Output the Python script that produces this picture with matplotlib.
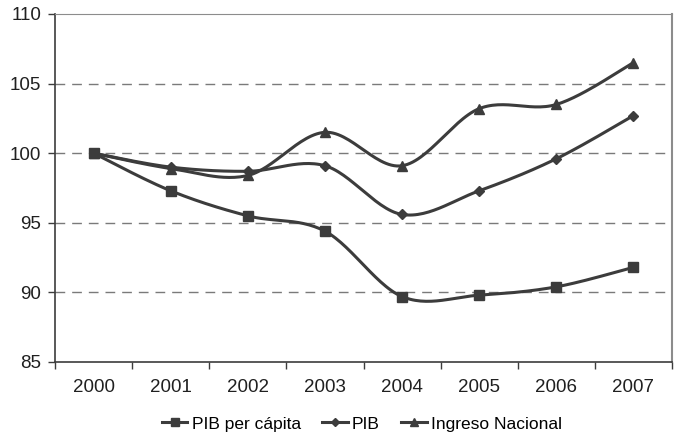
import numpy as np
import matplotlib
matplotlib.use("Agg")
import matplotlib.pyplot as plt
from matplotlib.lines import Line2D

years = ["2000", "2001", "2002", "2003", "2004", "2005", "2006", "2007"]
pib_per_capita = [100, 97.3, 95.5, 94.4, 89.7, 89.8, 90.4, 91.8]
pib = [100, 99.0, 98.7, 99.1, 95.6, 97.3, 99.6, 102.7]
ingreso_nacional = [100, 98.9, 98.4, 101.5, 99.1, 103.2, 103.5, 106.5]

series = [
    ("PIB per cápita", pib_per_capita, "s", 6.5),
    ("PIB", pib, "D", 5.5),
    ("Ingreso Nacional", ingreso_nacional, "^", 7),
]

plt.rcParams["font.family"] = ["Liberation Sans", "DejaVu Sans"]
dark = "#3c3c3c"


def smooth(x, y, n=30):
    # Catmull-Rom style bezier between consecutive points
    x = np.asarray(x, float)
    y = np.asarray(y, float)
    px = np.concatenate([[x[0]], x, [x[-1]]])
    py = np.concatenate([[y[0]], y, [y[-1]]])
    xs, ys = [], []
    t = np.linspace(0, 1, n)
    for i in range(1, len(px) - 2):
        p0 = np.array([px[i], py[i]])
        p3 = np.array([px[i + 1], py[i + 1]])
        p1 = p0 + (np.array([px[i + 1], py[i + 1]]) - np.array([px[i - 1], py[i - 1]])) / 6
        p2 = p3 - (np.array([px[i + 2], py[i + 2]]) - np.array([px[i], py[i]])) / 6
        b = ((1 - t) ** 3)[:, None] * p0 + (3 * (1 - t) ** 2 * t)[:, None] * p1 \
            + (3 * (1 - t) * t ** 2)[:, None] * p2 + (t ** 3)[:, None] * p3
        xs.extend(b[:, 0])
        ys.extend(b[:, 1])
    return xs, ys


fig = plt.figure(figsize=(6.79, 4.37), dpi=100)
ax = fig.add_axes([55 / 679, 1 - 362 / 437, 617 / 679, 348 / 437])

x = np.arange(len(years))
handles = []
for name, vals, mk, ms in series:
    sx, sy = smooth(x, vals)
    ax.plot(sx, sy, color=dark, lw=2.2, zorder=3)
    ax.plot(x, vals, ls="none", marker=mk, ms=ms, color=dark, zorder=4)
    handles.append(Line2D([], [], color=dark, lw=2.2, marker=mk, ms=ms - 1, label=name))

ax.set_xlim(-0.5, len(years) - 0.5)
ax.set_ylim(85, 110)
ax.set_yticks([85, 90, 95, 100, 105, 110])
ax.set_xticks(x)
ax.set_xticklabels(years)
ax.set_xticks(np.arange(len(years) + 1) - 0.5, minor=True)
ax.tick_params(axis="x", which="major", length=0, pad=12, labelsize=13.5, colors="#202020")
ax.tick_params(axis="x", which="minor", length=5, width=1, color=dark)
ax.tick_params(axis="y", length=5, width=1, color=dark, pad=5, labelsize=13.5, labelcolor="#202020")

for yv in [90, 95, 100, 105]:
    ax.axhline(yv, color="#7a7a7a", lw=1, ls=(0, (7, 5)), zorder=1)

ax.spines["left"].set_color(dark)
ax.spines["bottom"].set_color(dark)
ax.spines["left"].set_linewidth(1.2)
ax.spines["bottom"].set_linewidth(1.2)
ax.spines["top"].set_color("#8c8c8c")
ax.spines["right"].set_color("#8c8c8c")
ax.spines["right"].set_linewidth(1.5)

fig.legend(handles=handles, loc="center", bbox_to_anchor=(362 / 679, 1 - 424 / 437),
           ncol=3, frameon=False, fontsize=12.5, handlelength=1.45, handletextpad=0.25,
           columnspacing=1.25)

fig.savefig("out.png", dpi=100)
